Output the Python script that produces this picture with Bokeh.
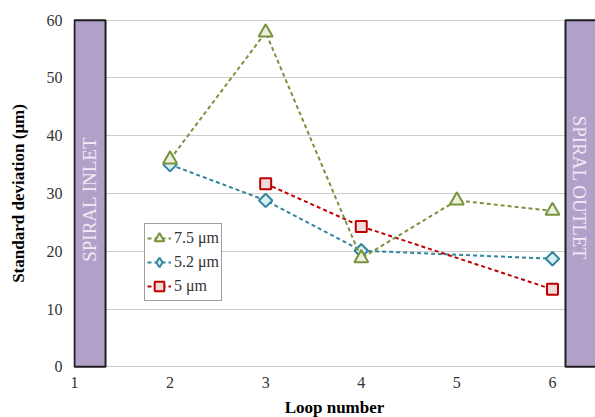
from bokeh.plotting import figure
from bokeh.models import Range1d, FixedTicker, Legend, LegendItem
from bokeh.core.properties import value
from bokeh.embed import file_html
from bokeh.resources import INLINE
import numpy as np

# ---- data ----
x_75 = [2, 3, 4, 5, 6]
y_75 = [35.9, 57.9, 18.8, 28.8, 27.0]
x_52 = [2, 3, 4, 6]
y_52 = [35.0, 28.8, 20.1, 18.7]
x_5 = [3, 4, 6]
y_5 = [31.7, 24.3, 13.4]
series_names = ["7.5 \u03bcm", "5.2 \u03bcm", "5 \u03bcm"]
x_ticks = [1, 2, 3, 4, 5, 6]
y_ticks = [0, 10, 20, 30, 40, 50, 60]
zone_labels = ["SPIRAL INLET", "SPIRAL OUTLET"]

FONT = "Liberation Serif"

p = figure(frame_width=522, frame_height=350,
           x_range=Range1d(0.99, 6.45), y_range=Range1d(-0.3, 60.3),
           output_backend="svg", toolbar_location=None,
           min_border_left=73, min_border_top=18, min_border_right=0,
           min_border_bottom=46)
p.outline_line_color = None
p.background_fill_color = "white"

# axes
p.xaxis.ticker = FixedTicker(ticks=x_ticks)
p.yaxis.ticker = FixedTicker(ticks=y_ticks)
for ax in (p.xaxis[0], p.yaxis[0]):
    ax.axis_line_color = None
    ax.major_tick_line_color = None
    ax.minor_tick_line_color = None
    ax.major_label_text_font = FONT
    ax.major_label_text_font_size = "16px"
    ax.major_label_text_color = "#333333"
    ax.axis_label_text_font = FONT
    ax.axis_label_text_font_size = "17px"
    ax.axis_label_text_font_style = "bold"
    ax.axis_label_text_color = "#000000"
p.xaxis.axis_label = "Loop number"
p.yaxis.axis_label = "Standard deviation (\u03bcm)"
p.xaxis.major_label_standoff = 2
p.xaxis.axis_label_standoff = 7
p.yaxis.major_label_standoff = 5
p.yaxis.axis_label_standoff = 16

p.xgrid.grid_line_color = None
p.ygrid.ticker = FixedTicker(ticks=y_ticks)
p.ygrid.grid_line_color = "#cccccc"
p.ygrid.grid_line_width = 1

# zone boxes
p.quad(left=[1.0, 6.136], right=[1.325, 6.8], bottom=[0, 0], top=[60, 60],
       fill_color="#b1a0c8", line_color="#1e1e1e", line_width=2)
p.text(x=[1.162], y=[29.0], text=[zone_labels[0]], angle=np.pi / 2,
       text_font=value(FONT), text_font_size="19px", text_color="#f0ebf6",
       text_align="center", text_baseline="middle")
p.text(x=[6.285], y=[31.0], text=[zone_labels[1]], angle=-np.pi / 2,
       text_font=value(FONT), text_font_size="19px", text_color="#f0ebf6",
       text_align="center", text_baseline="middle")

# series
DASH = "4 3"
l52 = p.line(x_52, y_52, line_color="#31859c", line_width=2, line_dash=DASH)
m52 = p.scatter(x_52, y_52, marker="square", angle=np.pi / 4, size=9.5,
                fill_color="#daeef3", line_color="#31859c", line_width=2)
# legend-only diamond (no visible point)
d52 = p.scatter([np.nan], [np.nan], marker="diamond", size=12,
                fill_color="#daeef3", line_color="#31859c", line_width=2)
l5 = p.line(x_5, y_5, line_color="#c00000", line_width=2, line_dash=DASH)
m5 = p.scatter(x_5, y_5, marker="square", size=11,
               fill_color="#f2dcdb", line_color="#c00000", line_width=2)
l75 = p.line(x_75, y_75, line_color="#77933c", line_width=2, line_dash=DASH)
m75 = p.scatter(x_75, y_75, marker="triangle", size=14,
                fill_color="#ebf1de", line_color="#77933c", line_width=2)

legend = Legend(items=[
    LegendItem(label=series_names[0], renderers=[l75, m75]),
    LegendItem(label=series_names[1], renderers=[l52, d52]),
    LegendItem(label=series_names[2], renderers=[l5, m5]),
], location=(71, 67))
legend.margin = 0
legend.padding = 2
legend.spacing = 0
legend.glyph_width = 24
legend.glyph_height = 24
legend.label_standoff = 3
legend.label_text_font = FONT
legend.label_text_font_size = "16px"
legend.label_text_color = "#333333"
legend.border_line_color = "#404040"
legend.border_line_width = 1
legend.background_fill_color = "white"
legend.background_fill_alpha = 1
p.add_layout(legend, "center")

open("out.html", "w").write(file_html(p, INLINE))
